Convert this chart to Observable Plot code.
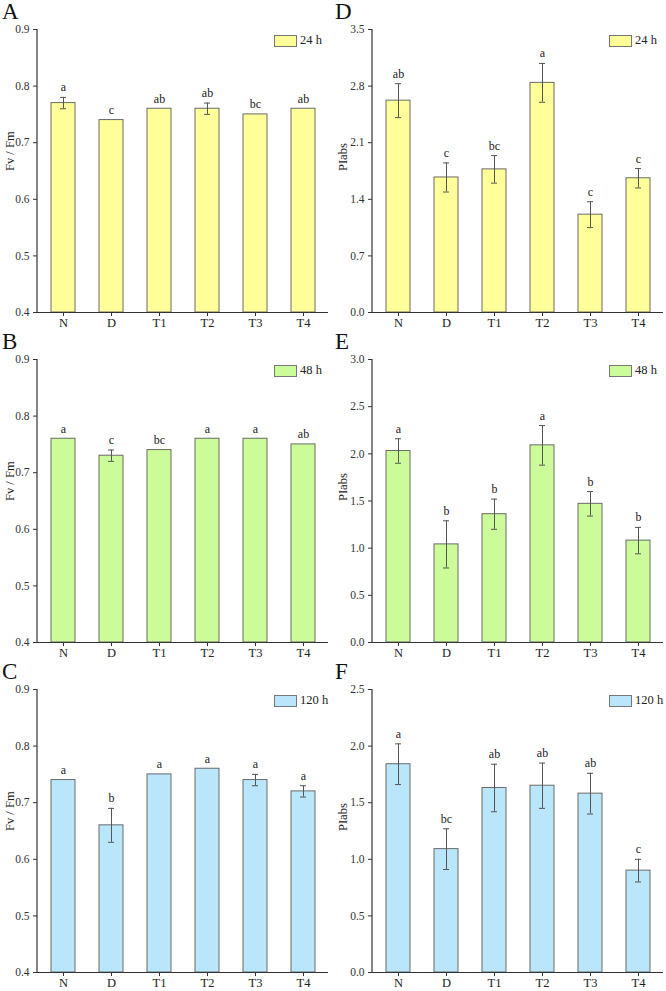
<!DOCTYPE html>
<html><head><meta charset="utf-8">
<script src="https://cdn.jsdelivr.net/npm/d3@7"></script>
<script src="https://cdn.jsdelivr.net/npm/@observablehq/plot@0.6"></script>
<style>
body{margin:0;background:#fff;}
#wrap{position:relative;width:666px;height:991px;font-family:"Liberation Serif","Times New Roman",serif;overflow:hidden;}
.panel{position:absolute;width:333px;height:330px;}
.panel svg{position:absolute;left:0;top:0;overflow:visible;}
.letter{position:absolute;left:2px;top:-1px;font-size:23px;line-height:26px;color:#111;}
.legend{position:absolute;top:34px;display:flex;align-items:center;font-size:12.5px;line-height:13px;color:#222;}
.legend .box{width:23px;height:12px;border:1px solid #777;margin-right:3px;box-sizing:border-box;}
</style></head><body><div id="wrap"></div>
<script>
const groups = ["N","D","T1","T2","T3","T4"];

// Fv/Fm
const fv24 = [0.77,0.74,0.76,0.76,0.75,0.76];
const fv24err = [0.01,0,0,0.01,0,0];
const fv24sig = ["a","c","ab","ab","bc","ab"];
const fv48 = [0.76,0.73,0.74,0.76,0.76,0.75];
const fv48err = [0,0.01,0,0,0,0];
const fv48sig = ["a","c","bc","a","a","ab"];
const fv120 = [0.74,0.66,0.75,0.76,0.74,0.72];
const fv120err = [0,0.03,0,0,0.01,0.01];
const fv120sig = ["a","b","a","a","a","a"];

// PIabs
const pi24 = [2.62,1.67,1.77,2.84,1.21,1.66];
const pi24err = [0.21,0.18,0.17,0.24,0.16,0.12];
const pi24sig = ["ab","c","bc","a","c","c"];
const pi48 = [2.03,1.04,1.36,2.09,1.47,1.08];
const pi48err = [0.13,0.25,0.16,0.21,0.13,0.14];
const pi48sig = ["a","b","b","a","b","b"];
const pi120 = [1.84,1.09,1.63,1.65,1.58,0.90];
const pi120err = [0.18,0.18,0.21,0.20,0.18,0.10];
const pi120sig = ["a","bc","ab","ab","ab","c"];

const fvTicks = [0.4,0.5,0.6,0.7,0.8,0.9];
const pi24Ticks = [0.0,0.7,1.4,2.1,2.8,3.5];
const pi48Ticks = [0.0,0.5,1.0,1.5,2.0,2.5,3.0];
const pi120Ticks = [0.0,0.5,1.0,1.5,2.0,2.5];

const timeLabels = ["24 h","48 h","120 h"];
const colors = ["#ffff99","#ccfc99","#b9e6fa"];
const FONT = '"Liberation Serif","Times New Roman",serif';

const wrap = document.getElementById("wrap");

function panel(cfg){
  const {left, top, letter, ytitle, values, errs, sig, domain, ticks, color, legend, ml, mr, legendLeft} = cfg;
  const data = groups.map((g,i)=>({g, v: values[i], e: errs[i], s: sig[i]}));
  const errData = data.filter(d => d.e > 0);
  const plot = Plot.plot({
    width: 333, height: 330,
    marginTop: 29, marginBottom: 18, marginLeft: ml, marginRight: mr,
    style: {fontFamily: FONT, color: "#333", background: "transparent", overflow: "visible"},
    x: {domain: groups, paddingInner: 0.5, paddingOuter: 0.25, label: null},
    y: {domain, label: null},
    marks: [
      Plot.barY(data, {x: "g", y1: () => domain[0], y2: "v", fill: color, stroke: "#6a6a6a", strokeWidth: 1}),
      Plot.ruleX(errData, {x: "g", y1: d => d.v - d.e, y2: d => d.v + d.e, stroke: "#555", strokeWidth: 1}),
      Plot.tickY(errData, {x: "g", y: d => d.v + d.e, insetLeft: 9, insetRight: 9, stroke: "#555", strokeWidth: 1}),
      Plot.tickY(errData, {x: "g", y: d => d.v - d.e, insetLeft: 9, insetRight: 9, stroke: "#555", strokeWidth: 1}),
      Plot.text(data, {x: "g", y: d => d.v + d.e, text: "s", dy: -6, lineAnchor: "bottom", fontSize: 12, fill: "#222"}),
      Plot.axisX({tickSize: 4, tickPadding: 2, fontSize: 12.5, label: null, stroke: "#333", fill: "#222"}),
      Plot.axisY({ticks, tickFormat: d3.format(".1f"), tickSize: 4, tickPadding: 4, fontSize: 11.5, label: null, stroke: "#333", fill: "#333"}),
      Plot.ruleY([domain[0]], {stroke: "#333", strokeWidth: 1.2}),
      Plot.text([ytitle], {frameAnchor: "left", rotate: -90, dx: -(ml - 9), fontSize: 12.5, fill: "#222"})
    ]
  });
  const div = document.createElement("div");
  div.className = "panel";
  div.style.left = left + "px";
  div.style.top = top + "px";
  div.appendChild(plot);
  // left axis line
  const yr = plot.scale("y").range;
  d3.select(plot).append("line")
    .attr("x1", ml).attr("x2", ml)
    .attr("y1", Math.min(...yr)).attr("y2", Math.max(...yr))
    .attr("stroke", "#333").attr("stroke-width", 1.2);
  const let_ = document.createElement("div");
  let_.className = "letter";
  let_.textContent = letter;
  div.appendChild(let_);
  const lg = document.createElement("div");
  lg.className = "legend";
  lg.style.left = legendLeft + "px";
  lg.innerHTML = `<div class="box" style="background:${color}"></div><span>${legend}</span>`;
  div.appendChild(lg);
  wrap.appendChild(div);
}

panel({left:0, top:0, letter:"A", ytitle:"Fv / Fm", values:fv24, errs:fv24err, sig:fv24sig, domain:[0.4,0.9], ticks:fvTicks, color:colors[0], legend:timeLabels[0], ml:37, mr:5, legendLeft:274});
panel({left:0, top:330, letter:"B", ytitle:"Fv / Fm", values:fv48, errs:fv48err, sig:fv48sig, domain:[0.4,0.9], ticks:fvTicks, color:colors[1], legend:timeLabels[1], ml:37, mr:5, legendLeft:274});
panel({left:0, top:660, letter:"C", ytitle:"Fv / Fm", values:fv120, errs:fv120err, sig:fv120sig, domain:[0.4,0.9], ticks:fvTicks, color:colors[2], legend:timeLabels[2], ml:37, mr:5, legendLeft:274});
panel({left:333, top:0, letter:"D", ytitle:"PIabs", values:pi24, errs:pi24err, sig:pi24sig, domain:[0,3.5], ticks:pi24Ticks, color:colors[0], legend:timeLabels[0], ml:39, mr:3, legendLeft:276});
panel({left:333, top:330, letter:"E", ytitle:"PIabs", values:pi48, errs:pi48err, sig:pi48sig, domain:[0,3.0], ticks:pi48Ticks, color:colors[1], legend:timeLabels[1], ml:39, mr:3, legendLeft:276});
panel({left:333, top:660, letter:"F", ytitle:"PIabs", values:pi120, errs:pi120err, sig:pi120sig, domain:[0,2.5], ticks:pi120Ticks, color:colors[2], legend:timeLabels[2], ml:39, mr:3, legendLeft:276});
</script>
</body></html>
